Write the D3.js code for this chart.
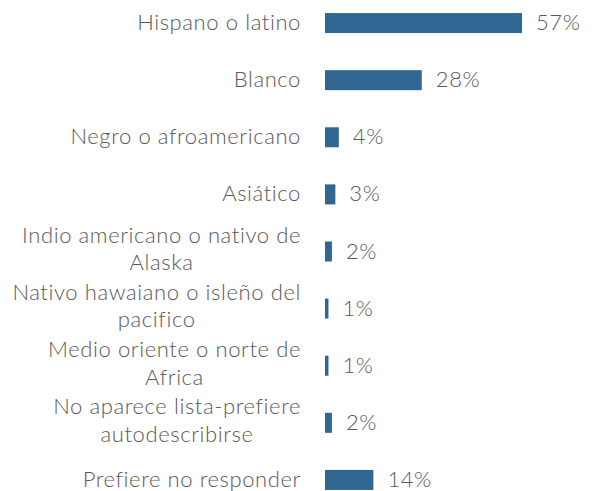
<!DOCTYPE html>
<html>
<head>
<meta charset="utf-8">
<script src="https://cdn.jsdelivr.net/npm/d3@7"></script>
<style>
  html, body { margin: 0; padding: 0; background: #fff; }
  svg { display: block; }
  text { font-family: Lato, "Open Sans", sans-serif; font-weight: 300; fill: #595959; letter-spacing: 0.6px; }
</style>
</head>
<body>
<svg id="chart" width="594" height="491"></svg>
<script>
const categories = [
  ["Hispano o latino"],
  ["Blanco"],
  ["Negro o afroamericano"],
  ["Asiático"],
  ["Indio americano o nativo de", "Alaska"],
  ["Nativo hawaiano o isleño del", "pacifico"],
  ["Medio oriente o norte de", "Africa"],
  ["No aparece lista-prefiere", "autodescribirse"],
  ["Prefiere no responder"]
];
const values = [57, 28, 4, 3, 2, 1, 1, 2, 14];
const valueLabels = ["57%", "28%", "4%", "3%", "2%", "1%", "1%", "2%", "14%"];

const svg = d3.select("#chart");
const barLeft = 325;
const labelRight = 301;
const fontSize = 22;
const lineH = 27.5;

const idx = d3.range(categories.length);
const y = d3.scaleBand().domain(idx).range([-5.5, 508.5]).paddingInner(0.65).paddingOuter(0.325);
const x = d3.scaleLinear().domain([0, 57]).range([0, 197]);

const g = svg.append("g");

const rows = g.selectAll("g.row").data(idx).join("g").attr("class", "row");

rows.append("rect")
  .attr("x", barLeft)
  .attr("y", i => y(i) + y.bandwidth() / 2 - 10)
  .attr("width", i => Math.max(1.5, x(values[i])))
  .attr("height", 20)
  .attr("fill", "#2f6792");

rows.append("text")
  .attr("x", i => barLeft + Math.max(1.5, x(values[i])) + 14)
  .attr("y", i => y(i) + y.bandwidth() / 2)
  .attr("dy", "0.32em")
  .attr("font-size", fontSize)
  .text(i => valueLabels[i]);

rows.each(function(i) {
  const lines = categories[i];
  const cy = y(i) + y.bandwidth() / 2 - (lines.length > 1 ? 2 : 0);
  const grp = d3.select(this).append("g");
  const texts = lines.map((ln, k) => grp.append("text")
    .attr("font-size", fontSize)
    .attr("y", cy + (k - (lines.length - 1) / 2) * lineH)
    .attr("dy", "0.32em")
    .text(ln));
  const widths = texts.map(t => t.node().getComputedTextLength());
  const maxW = d3.max(widths);
  const center = labelRight - maxW / 2;
  texts.forEach(t => t.attr("x", center).attr("text-anchor", "middle"));
});
</script>
</body>
</html>
